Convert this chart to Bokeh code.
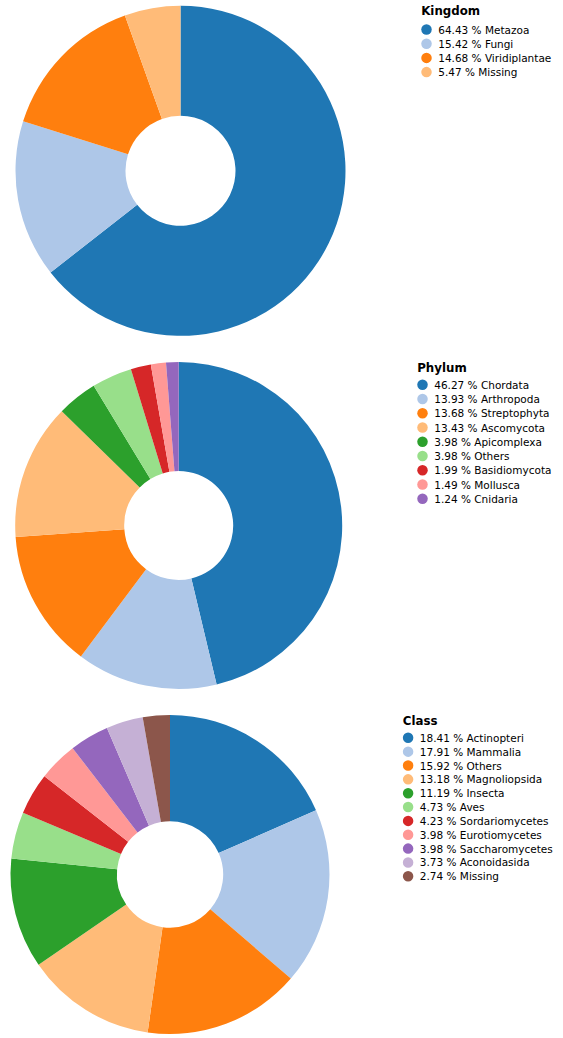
from bokeh.plotting import figure
from bokeh.models import Range1d, ColumnDataSource
from bokeh.embed import file_html
from bokeh.resources import INLINE
from bokeh.core.properties import value
import math

kingdom_labels = ["Metazoa", "Fungi", "Viridiplantae", "Missing"]
kingdom_pct = [64.43, 15.42, 14.68, 5.47]

phylum_labels = ["Chordata", "Arthropoda", "Streptophyta", "Ascomycota", "Apicomplexa",
                 "Others", "Basidiomycota", "Mollusca", "Cnidaria"]
phylum_pct = [46.27, 13.93, 13.68, 13.43, 3.98, 3.98, 1.99, 1.49, 1.24]

class_labels = ["Actinopteri", "Mammalia", "Others", "Magnoliopsida", "Insecta", "Aves",
                "Sordariomycetes", "Eurotiomycetes", "Saccharomycetes", "Aconoidasida", "Missing"]
class_pct = [18.41, 17.91, 15.92, 13.18, 11.19, 4.73, 4.23, 3.98, 3.98, 3.73, 2.74]

palette = ["#1f77b4", "#aec7e8", "#ff7f0e", "#ffbb78", "#2ca02c", "#98df8a",
           "#d62728", "#ff9896", "#9467bd", "#c5b0d5", "#8c564b"]

W, H = 560, 1036
p = figure(width=W, height=H, x_range=Range1d(0, W), y_range=Range1d(0, H),
           output_backend="svg", toolbar_location=None, min_border=0)
p.axis.visible = False
p.grid.visible = False
p.outline_line_color = None
p.background_fill_color = "white"

def px(x):
    return x

def py(y):
    return H - y

# layout (page pixel coordinates)
charts = [
    dict(title="Kingdom", labels=kingdom_labels, pct=kingdom_pct, cx=180.0, cy=170.3, r=165.0,
         tx=420.7, ty=10.5, ry0=29.0, dy=14.2),
    dict(title="Phylum", labels=phylum_labels, pct=phylum_pct, cx=178.2, cy=525.0, r=163.5,
         tx=416.7, ty=367.0, ry0=384.3, dy=14.25),
    dict(title="Class", labels=class_labels, pct=class_pct, cx=169.5, cy=874.0, r=159.5,
         tx=402.3, ty=720.0, ry0=737.3, dy=13.85),
]

for c in charts:
    vals = c["pct"]
    total = sum(vals)
    starts, ends = [], []
    acc = 0.0
    for v in vals:
        starts.append(math.pi / 2 - 2 * math.pi * acc / total)
        acc += v
        ends.append(math.pi / 2 - 2 * math.pi * acc / total)
    n = len(vals)
    src = ColumnDataSource(dict(start=starts, end=ends, color=palette[:n]))
    p.annular_wedge(x=px(c["cx"]), y=py(c["cy"]), inner_radius=c["r"] / 3.0,
                    outer_radius=c["r"], inner_radius_units="screen", outer_radius_units="screen",
                    start_angle="start", end_angle="end", direction="clock",
                    fill_color="color", line_color=None, source=src)
    # legend
    p.text(x=[px(c["tx"])], y=[py(c["ty"])], text=[c["title"]],
           text_font=value("DejaVu Sans"), text_font_size="11.8px", text_font_style="bold",
           text_baseline="middle", text_align="left", text_color="#000000")
    ys = [py(c["ry0"] + i * c["dy"]) for i in range(n)]
    lsrc = ColumnDataSource(dict(
        sx=[px(c["tx"] + 5.3)] * n, lx=[px(c["tx"] + 17.0)] * n, y=ys, color=palette[:n],
        txt=[f"{v:.2f} % {name}" for v, name in zip(vals, c["labels"])]))
    p.scatter(x="sx", y="y", size=10.5, marker="circle", fill_color="color",
              line_color=None, source=lsrc)
    p.text(x="lx", y="y", text="txt", source=lsrc,
           text_font=value("DejaVu Sans"), text_font_size="10.5px",
           text_baseline="middle", text_align="left", text_color="#000000")

open("out.html", "w").write(file_html(p, INLINE))
